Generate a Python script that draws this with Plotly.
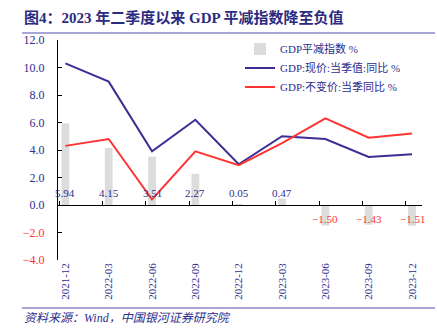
import plotly.graph_objects as go

categories = ["2021-12", "2022-03", "2022-06", "2022-09", "2022-12",
              "2023-03", "2023-06", "2023-09", "2023-12"]
deflator = [5.94, 4.15, 3.51, 2.27, 0.05, 0.47, -1.50, -1.43, -1.51]
nominal = [10.3, 8.97, 3.9, 6.2, 2.96, 5.0, 4.8, 3.5, 3.7]
real = [4.3, 4.8, 0.4, 3.9, 2.9, 4.5, 6.3, 4.9, 5.2]
y_ticks = [12, 10, 8, 6, 4, 2, 0, -2, -4]

NAVY = "#2E2E8E"
RED = "#FF3333"
FONT = "Liberation Serif, 'Noto Sans CJK SC', serif"

fig = go.Figure()
fig.add_trace(go.Bar(x=categories, y=deflator, name="GDP平减指数 %",
                     marker=dict(color="#DCDCDC", line=dict(width=0)),
                     width=0.18))
fig.add_trace(go.Scatter(x=categories, y=nominal, mode="lines",
                         name="GDP:现价:当季值:同比 %",
                         line=dict(color="#3B2F95", width=2)))
fig.add_trace(go.Scatter(x=categories, y=real, mode="lines",
                         name="GDP:不变价:当季同比 %",
                         line=dict(color=RED, width=2)))
fig.add_trace(go.Scatter(x=[], y=[], xaxis="x2", showlegend=False,
                         hoverinfo="skip"))

def fmt(v):
    s = f"{abs(v):.2f}"
    return ("\u2212" + s) if v < 0 else s

annotations = []
for c, v in zip(categories, deflator):
    annotations.append(dict(x=c, y=0, xref="x", yref="y", text=fmt(v),
                            showarrow=False, yshift=12 if v >= 0 else -14,
                            font=dict(family=FONT, size=11,
                                      color=NAVY if v >= 0 else RED)))

annotations.append(dict(x=-36/364, y=1 + 23/220, xref="paper", yref="paper",
                        text="<b>图4：2023 年二季度以来 GDP 平减指数降至负值</b>",
                        showarrow=False, xanchor="left", yanchor="middle",
                        font=dict(family=FONT, size=15, color="#2B2B80")))

annotations.append(dict(x=-36/364, y=-58/220, xref="paper", yref="paper",
                        text="<i>资料来源：Wind，中国银河证券研究院</i>",
                        showarrow=False, xanchor="left", yanchor="middle",
                        font=dict(family=FONT, size=12, color=NAVY)))

ticktext = []
for t in y_ticks:
    s = f"{abs(t):.1f}"
    if t < 0:
        ticktext.append(f'<span style="color:{RED}">\u2212{s}</span>')
    else:
        ticktext.append(s)

ymin, ymax = -4, 12
zero_pos = (0 - ymin) / (ymax - ymin)

fig.update_layout(
    width=437, height=332,
    margin=dict(l=58, r=15, t=40, b=72),
    paper_bgcolor="white", plot_bgcolor="white",
    font=dict(family=FONT, size=11, color=NAVY),
    showlegend=True,
    legend=dict(x=0.50, y=1.025, xanchor="left", yanchor="top",
                bgcolor="rgba(0,0,0,0)", font=dict(family=FONT, size=11, color=NAVY),
                tracegroupgap=0, itemwidth=30),
    xaxis=dict(type="category", range=[-0.17, 8.23], showline=False,
               ticks="", showgrid=False, zeroline=False, tickangle=-90,
               tickfont=dict(family=FONT, size=11, color=NAVY)),
    xaxis2=dict(overlaying="x", anchor="free", position=zero_pos,
                range=[-0.17, 8.23], showline=True, linecolor="black",
                linewidth=1, ticks="inside", ticklen=4, tickcolor="black",
                tick0=-0.14, dtick=1, showticklabels=False, showgrid=False,
                zeroline=False, side="bottom"),
    yaxis=dict(range=[ymin, ymax], tickvals=y_ticks, ticktext=ticktext,
               showline=True, linecolor="black", linewidth=1,
               ticks="inside", ticklen=4, tickcolor="black",
               showgrid=False, zeroline=False, ticklabelstandoff=10,
               tickfont=dict(family=FONT, size=12, color=NAVY)),
    annotations=annotations,
    shapes=[
        dict(type="line", xref="paper", yref="paper", x0=-36/364, x1=377/364,
             y0=1 + 7/220, y1=1 + 7/220, line=dict(color="#8A88C8", width=1.5)),
        dict(type="line", xref="paper", yref="paper", x0=-36/364, x1=377/364,
             y0=-48/220, y1=-48/220, line=dict(color="#8A88C8", width=1.5)),
    ],
)

fig.write_html("out.html")
